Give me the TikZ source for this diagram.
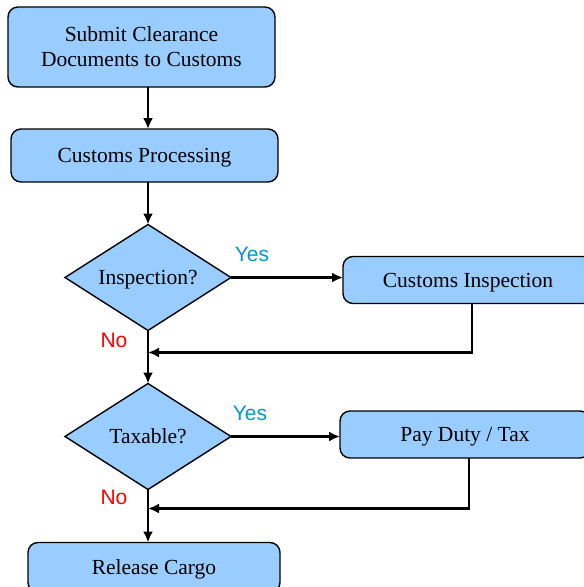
\documentclass[tikz,border=0pt]{standalone}
\usepackage{fontspec}
\setmainfont{Liberation Serif}
\newfontfamily\labelfont{Liberation Sans}
\usetikzlibrary{arrows.meta,positioning,shapes.geometric}
\definecolor{boxblue}{RGB}{153,204,255}
\definecolor{yesblue}{RGB}{0,153,204}

\begin{document}
\begin{tikzpicture}[
    x=1pt, y=-1pt,
    box/.style={draw, fill=boxblue, line width=1.4pt, rounded corners=10pt,
                outer sep=0pt, minimum width=267pt, align=center,
                text depth=0pt, font=\fontsize{21.5}{25}\selectfont},
    sidebox/.style={box, minimum width=250pt, minimum height=47pt},
    decision/.style={draw, fill=boxblue, line width=1.4pt, diamond,
                aspect=1.57, inner sep=0pt, outer sep=0pt, minimum width=166pt,
                minimum height=106pt, text depth=0pt,
                font=\fontsize{21.5}{25}\selectfont},
    arrow/.style={-{Latex[length=11pt,width=10pt]}, line width=2.2pt},
    yeslabel/.style={font=\labelfont\fontsize{21}{25}\selectfont, text=yesblue},
    nolabel/.style={font=\labelfont\fontsize{21}{25}\selectfont, text=red},
]
\useasboundingbox (0,0) rectangle (584,587);
% Main column
\node[box, minimum height=80pt] (submit) at (141.5,47) {Submit Clearance\\
    Documents to Customs};
\node[box, minimum height=53pt, below=42pt of submit, xshift=3pt] (process)
    {Customs Processing};
\node[decision, below=42.5pt of process, xshift=3.5pt] (insp) {Inspection?};
\node[decision, below=53pt of insp] (tax) {Taxable?};
\node[box, minimum width=252pt, minimum height=50pt, below=53pt of tax,
    xshift=6pt] (release) {Release Cargo};
% Side steps
\node[sidebox, right=112pt of insp, yshift=-2.5pt] (inspect) {Customs Inspection};
\node[sidebox, right=109pt of tax, yshift=2pt] (pay) {Pay Duty / Tax};
% Join points
\coordinate[below=22pt of insp.south] (join1);
\coordinate[below=19pt of tax.south] (join2);

% Arrows
\draw[arrow] (submit.south -| insp.north) -- (process.north -| insp.north);
\draw[arrow] (process.south -| insp.north) -- (insp);
\draw[arrow] (insp) -- (tax);
\draw[arrow] (insp.east) -- (insp.east -| inspect.west);
\draw[arrow] ([xshift=4pt]inspect.south) |- (join1);
\draw[arrow] (tax.south) -- (release.north -| tax.south);
\draw[arrow] (tax.east) -- (tax.east -| pay.west);
\draw[arrow] ([xshift=4pt]pay.south) |- (join2);

% Labels
\node[yeslabel] (yes1) at ([xshift=21pt,yshift=23.5pt]insp.east) {Yes};
\node[nolabel] (no1) at ([xshift=-34pt,yshift=-10pt]insp.south) {No};
\node[yeslabel] (yes2) at ([xshift=19pt,yshift=23.5pt]tax.east) {Yes};
\node[nolabel] (no2) at ([xshift=-34pt,yshift=-8pt]tax.south) {No};

\end{tikzpicture}
\end{document}
